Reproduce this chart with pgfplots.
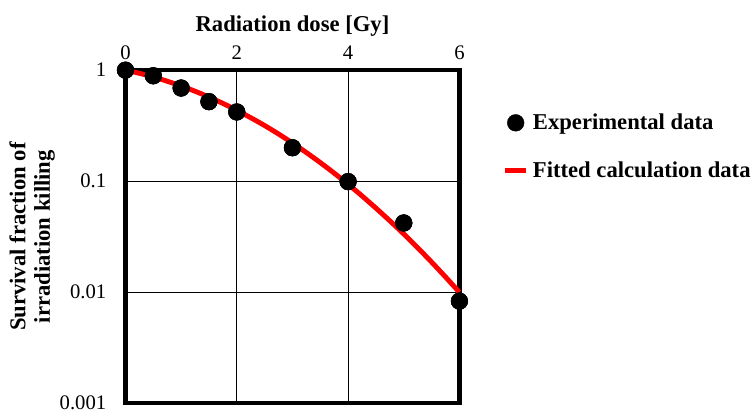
\documentclass[border=0pt]{standalone}
\usepackage{fontspec}
\setmainfont{Liberation Serif}
\usepackage{pgfplots}
\pgfplotsset{compat=1.18}

\begin{document}
\begin{tikzpicture}
\begin{axis}[
    scale only axis,
    width=338bp, height=337bp,
    ymode=log,
    xmin=0, xmax=6,
    ymin=0.001, ymax=1,
    xtick={0,2,4,6},
    ytick={0.001,0.01,0.1,1},
    yticklabels={0.001,0.01,0.1,1},
    xticklabel pos=upper,
    minor tick num=0,
    tick style={draw=none},
    grid=major,
    major grid style={black, line width=1bp},
    axis line style={black, line width=4.5bp},
    clip=false,
    /pgf/number format/assume math mode=true,
    tick label style={font=\fontsize{21}{23}\selectfont},
    yticklabel style={xshift=-16bp},
    xticklabel style={yshift=7bp},
    xlabel={Radiation dose [Gy]},
    ylabel={Survival fraction of\\irradiation killing},
    label style={font=\bfseries\fontsize{23}{25}\selectfont, align=center},
    xlabel style={yshift=3bp},
    ylabel style={yshift=-2bp},
    legend style={draw=none, fill=none, at={(1.13,0.77)}, anchor=west,
        inner sep=0pt, outer sep=0pt, row sep=22bp,
        font=\bfseries\fontsize{23}{25}\selectfont,
        nodes={inner sep=4.5bp}},
    legend cell align=left,
]

\addplot[only marks, mark=*, mark size=8.5bp, black] coordinates {
    (0,1.0) (0.5,0.89) (1,0.69) (1.5,0.52) (2,0.42)
    (3,0.20) (4,0.099) (5,0.042) (6,0.0083) };
\addlegendentry{Experimental data}

\addplot[red, line width=5bp, smooth,
    legend image code/.code={\draw[red, line width=5bp] (-2bp,0bp) -- (19bp,0bp);}]
    coordinates {
    (0,1.0) (0.25,0.937) (0.5,0.868) (0.75,0.795) (1,0.720)
    (1.25,0.646) (1.5,0.572) (1.75,0.502) (2,0.435)
    (2.25,0.373) (2.5,0.317) (2.75,0.266) (3,0.2205)
    (3.25,0.181) (3.5,0.147) (3.75,0.118) (4,0.0937)
    (4.25,0.0736) (4.5,0.0571) (4.75,0.0439) (5,0.0334)
    (5.25,0.0251) (5.5,0.01865) (5.75,0.0137) (6,0.00997) };
\addlegendentry{Fitted calculation data}

\addplot[only marks, mark=*, mark size=8.5bp, black, forget plot] coordinates {
    (0,1.0) (0.5,0.89) (1,0.69) (1.5,0.52) (2,0.42)
    (3,0.20) (4,0.099) (5,0.042) (6,0.0083) };

% page frame of the reference (755 x 418)
\path (rel axis cs:-0.3757,-0.0297) rectangle (rel axis cs:1.858,1.2107);

\end{axis}
\end{tikzpicture}
\end{document}
